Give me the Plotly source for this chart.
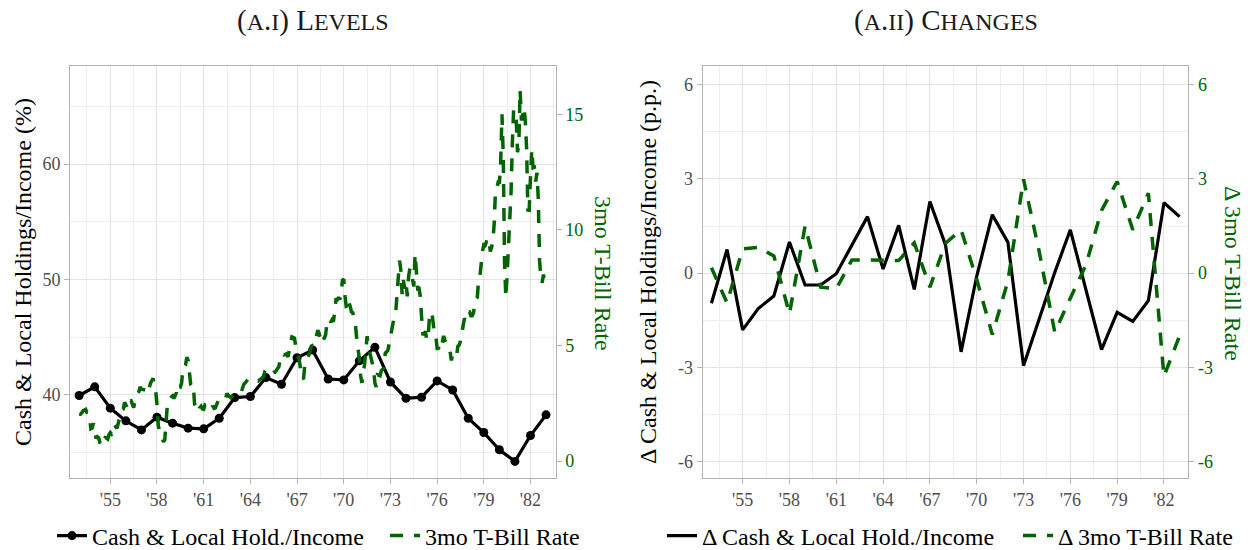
import numpy as np
import plotly.graph_objects as go

# ---------------------------------------------------------------- data
years = list(range(1953, 1984))

# Cash & local holdings relative to income (%), annual
cash_level = [39.95, 40.70, 38.85, 37.75, 36.97, 38.07, 37.55, 37.12, 37.06, 37.98,
              39.77, 39.86, 41.50, 40.92, 43.22, 43.89, 41.38, 41.30, 42.95, 44.12,
              41.12, 39.71, 39.80, 41.21, 40.43, 37.98, 36.74, 35.25, 34.24, 36.48,
              38.27]

# Year-over-year change in the cash ratio (p.p.)
cash_change = [-0.96, 0.75, -1.81, -1.13, -0.73, 0.99, -0.38, -0.38, -0.02, 0.87,
               1.80, 0.13, 1.52, -0.52, 2.28, 0.90, -2.51, -0.10, 1.86, 0.98,
               -2.95, -1.47, 0.02, 1.38, -0.58, -2.44, -1.25, -1.54, -0.88, 2.24,
               1.80]

# Year-over-year change in the annual average 3-month T-bill rate (p.p.)
tbill_change = [0.17, -0.95, 0.77, 0.82, 0.55, -1.30, 1.50, -0.45, -0.50, 0.42,
                0.42, 0.40, 0.40, 0.96, -0.45, 0.95, 1.38, -0.20, -1.96, -0.25,
                2.99, 0.70, -1.88, -0.80, 0.26, 2.00, 2.92, 1.38, 2.55, -3.29,
                -2.00]

# Monthly 3-month T-bill rate (%), Jan 1953 - Dec 1982
tbill_monthly = [
    2.04, 2.02, 2.08, 2.18, 2.20, 2.23, 2.10, 2.09, 1.88, 1.40, 1.43, 1.63,   # 1953
    1.21, 0.98, 1.05, 1.01, 0.78, 0.65, 0.71, 0.89, 1.01, 0.99, 0.95, 1.15,   # 1954
    1.23, 1.17, 1.28, 1.59, 1.45, 1.41, 1.60, 1.90, 2.07, 2.23, 2.25, 2.54,   # 1955
    2.41, 2.32, 2.25, 2.60, 2.61, 2.49, 2.31, 2.60, 2.84, 2.90, 2.99, 3.21,   # 1956
    3.11, 3.10, 3.08, 3.06, 3.06, 3.29, 3.16, 3.37, 3.53, 3.58, 3.29, 3.04,   # 1957
    2.44, 1.53, 1.30, 1.13, 0.91, 0.83, 0.91, 1.69, 2.44, 2.63, 2.67, 2.77,   # 1958
    2.82, 2.70, 2.80, 2.95, 2.84, 3.21, 3.20, 3.38, 4.04, 4.05, 4.15, 4.49,   # 1959
    4.35, 3.96, 3.31, 3.23, 3.29, 2.46, 2.30, 2.30, 2.48, 2.30, 2.37, 2.25,   # 1960
    2.24, 2.42, 2.39, 2.29, 2.29, 2.33, 2.24, 2.39, 2.28, 2.30, 2.48, 2.60,   # 1961
    2.72, 2.73, 2.72, 2.73, 2.68, 2.73, 2.92, 2.82, 2.78, 2.74, 2.83, 2.87,   # 1962
    2.91, 2.92, 2.89, 2.90, 2.92, 2.99, 3.18, 3.32, 3.38, 3.45, 3.52, 3.52,   # 1963
    3.52, 3.53, 3.54, 3.47, 3.48, 3.48, 3.46, 3.50, 3.53, 3.57, 3.64, 3.84,   # 1964
    3.81, 3.93, 3.93, 3.93, 3.89, 3.80, 3.84, 3.84, 3.92, 4.03, 4.09, 4.38,   # 1965
    4.59, 4.65, 4.59, 4.62, 4.64, 4.50, 4.80, 4.96, 5.37, 5.35, 5.32, 4.96,   # 1966
    4.72, 4.56, 4.26, 3.84, 3.60, 3.54, 4.21, 4.27, 4.42, 4.56, 4.73, 4.97,   # 1967
    5.00, 4.98, 5.17, 5.38, 5.66, 5.52, 5.31, 5.09, 5.19, 5.35, 5.45, 5.94,   # 1968
    6.13, 6.12, 6.01, 6.11, 6.03, 6.43, 6.98, 6.97, 7.08, 6.99, 7.24, 7.82,   # 1969
    7.87, 7.13, 6.63, 6.51, 6.84, 6.68, 6.45, 6.41, 6.12, 5.91, 5.28, 4.87,   # 1970
    4.44, 3.70, 3.38, 3.86, 4.14, 4.75, 5.40, 4.94, 4.69, 4.46, 4.22, 4.01,   # 1971
    3.38, 3.20, 3.73, 3.71, 3.69, 3.91, 3.98, 4.02, 4.66, 4.74, 4.78, 5.07,   # 1972
    5.41, 5.60, 6.09, 6.26, 6.36, 7.19, 8.01, 8.67, 8.29, 7.22, 7.83, 7.45,   # 1973
    7.77, 7.12, 7.96, 8.33, 8.23, 7.90, 7.55, 8.96, 8.06, 7.46, 7.47, 7.15,   # 1974
    6.26, 5.50, 5.49, 5.61, 5.23, 5.34, 6.13, 6.44, 6.42, 5.96, 5.48, 5.44,   # 1975
    4.87, 4.88, 5.00, 4.86, 5.20, 5.41, 5.23, 5.14, 5.08, 4.92, 4.75, 4.35,   # 1976
    4.62, 4.67, 4.60, 4.54, 4.96, 5.02, 5.19, 5.49, 5.81, 6.16, 6.10, 6.07,   # 1977
    6.44, 6.45, 6.29, 6.29, 6.41, 6.73, 7.01, 7.08, 7.85, 7.99, 8.64, 9.08,   # 1978
    9.35, 9.32, 9.48, 9.46, 9.61, 9.06, 9.24, 9.52, 10.26, 11.70, 11.79, 12.04,  # 1979
    12.00, 12.86, 15.00, 13.20, 8.58, 7.07, 8.06, 9.13, 10.27, 11.62, 13.73, 15.20,  # 1980
    15.02, 14.79, 13.36, 13.69, 16.05, 14.73, 14.95, 15.30, 14.70, 13.54, 10.86, 10.85,  # 1981
    12.28, 13.48, 12.68, 12.70, 12.09, 12.47, 11.35, 8.68, 7.92, 7.71, 8.07, 7.70,   # 1982
]
tbill_dates = [1953 + i / 12 for i in range(len(tbill_monthly))]

xtick_years = list(range(1955, 1983, 3))
xtick_text = ["'" + str(y)[2:] for y in xtick_years]
xminor_years = [1953.5 + 3 * k for k in range(11)]

# ---------------------------------------------------------------- style
SERIF = "Liberation Serif, Times New Roman, serif"
GREEN = "#006400"
GRID = "#e3e3e3"
GRID_MINOR = "#eeeeee"
FRAME = "#b3b3b3"
TICKTXT = "#4d4d4d"
W, H = 1250, 550


def px_x(p):
    return p / W


def px_y(p):
    return 1 - p / H


def small_caps(text, small=24):
    """Uppercase letters at full size, lowercase letters as reduced capitals."""
    out = []
    for ch in text:
        if ch.islower():
            out.append(f"<span style='font-size:{small}px'>{ch.upper()}</span>")
        else:
            out.append(ch)
    return "".join(out)


fig = go.Figure()

# -------- left panel: levels
fig.add_trace(go.Scatter(
    x=years, y=cash_level, mode="lines+markers",
    name="Cash & Local Hold./Income",
    line=dict(color="black", width=3.2),
    marker=dict(color="black", size=9),
    xaxis="x", yaxis="y", legend="legend", showlegend=True,
))
fig.add_trace(go.Scatter(
    x=tbill_dates, y=tbill_monthly, mode="lines",
    name="3mo T-Bill Rate",
    line=dict(color=GREEN, width=3.5, dash="13px,11px"),
    xaxis="x", yaxis="y2", legend="legend2", showlegend=True,
))

# -------- right panel: changes
fig.add_trace(go.Scatter(
    x=years, y=cash_change, mode="lines",
    name="\u0394 Cash & Local Hold./Income",
    line=dict(color="black", width=3.2),
    xaxis="x2", yaxis="y3", legend="legend3", showlegend=True,
))
fig.add_trace(go.Scatter(
    x=years, y=tbill_change, mode="lines",
    name="\u0394 3mo T-Bill Rate",
    line=dict(color=GREEN, width=3.5, dash="13px,11px"),
    xaxis="x2", yaxis="y4", legend="legend4", showlegend=True,
))

tickfont = dict(family=SERIF, size=18, color=TICKTXT)
greenfont = dict(family=SERIF, size=18, color=GREEN)


def xaxis_cfg(domain, rng):
    return dict(
        domain=domain, range=rng, tickmode="array",
        tickvals=xtick_years, ticktext=xtick_text, tickfont=tickfont,
        ticks="outside", ticklen=5, tickcolor=FRAME,
        showgrid=True, gridcolor=GRID, gridwidth=1,
        minor=dict(tickmode="array", tickvals=xminor_years, showgrid=True,
                   gridcolor=GRID_MINOR, gridwidth=1, ticks=""),
        showline=True, linecolor=FRAME, linewidth=1, mirror=True,
        zeroline=False,
    )


def legend_cfg(x_px):
    return dict(
        orientation="h", x=px_x(x_px), xanchor="left", y=px_y(536), yanchor="middle",
        font=dict(family=SERIF, size=24, color="black"), bgcolor="rgba(0,0,0,0)",
        visible=True,
    )


ydom = [px_y(478), px_y(66)]

fig.update_layout(
    width=W, height=H,
    margin=dict(l=0, r=0, t=0, b=0, autoexpand=False),
    showlegend=True,
    paper_bgcolor="white", plot_bgcolor="white",
    font=dict(family=SERIF, color="black"),
    xaxis=xaxis_cfg([px_x(70), px_x(555.7)], [1952.41, 1983.62]),
    xaxis2=xaxis_cfg([px_x(702.7), px_x(1188.3)], [1952.44, 1983.56]),
    yaxis=dict(
        domain=ydom, range=[32.8, 68.5], anchor="x",
        tickmode="array", tickvals=[40, 50, 60], tickfont=tickfont,
        ticks="outside", ticklen=5, tickcolor=FRAME,
        showgrid=True, gridcolor=GRID, gridwidth=1,
        minor=dict(tickmode="array", tickvals=[35, 45, 55, 65], showgrid=True,
                   gridcolor=GRID_MINOR, gridwidth=1, ticks=""),
        showline=True, linecolor=FRAME, linewidth=1, mirror=True,
        zeroline=False,
    ),
    yaxis2=dict(
        overlaying="y", side="right", anchor="x",
        range=[-0.735, 17.09], tickmode="array", tickvals=[0, 5, 10, 15],
        tickfont=greenfont, ticks="outside", ticklen=5, tickcolor=FRAME,
        showgrid=False, zeroline=False, showline=False,
    ),
    yaxis3=dict(
        domain=ydom, range=[-6.53, 6.6], anchor="x2",
        tickmode="array", tickvals=[-6, -3, 0, 3, 6],
        ticktext=["-6", "-3", "0", "3", "6"], tickfont=tickfont,
        ticks="outside", ticklen=5, tickcolor=FRAME,
        showgrid=True, gridcolor=GRID, gridwidth=1,
        minor=dict(tickmode="array", tickvals=[-4.5, -1.5, 1.5, 4.5], showgrid=True,
                   gridcolor=GRID_MINOR, gridwidth=1, ticks=""),
        showline=True, linecolor=FRAME, linewidth=1, mirror=True,
        zeroline=False,
    ),
    yaxis4=dict(
        overlaying="y3", side="right", anchor="x2",
        range=[-6.53, 6.6], tickmode="array", tickvals=[-6, -3, 0, 3, 6],
        ticktext=["-6", "-3", "0", "3", "6"], tickfont=greenfont,
        ticks="outside", ticklen=5, tickcolor=FRAME,
        showgrid=False, zeroline=False, showline=False,
    ),
    legend=legend_cfg(52),
    legend2=legend_cfg(385),
    legend3=legend_cfg(662),
    legend4=legend_cfg(1018),
)

# panel titles and axis titles
ann = [
    dict(text=small_caps("(a.i) Levels"), x=px_x(312.5), y=px_y(20),
         font=dict(family=SERIF, size=29, color="#1a1a1a")),
    dict(text=small_caps("(a.ii) Changes"), x=px_x(945.5), y=px_y(20),
         font=dict(family=SERIF, size=29, color="#1a1a1a")),
    dict(text="Cash & Local Holdings/Income (%)", x=px_x(23), y=px_y(272),
         textangle=-90, font=dict(family=SERIF, size=24, color="black")),
    dict(text="3mo T-Bill Rate", x=px_x(603), y=px_y(273),
         textangle=90, font=dict(family=SERIF, size=24, color=GREEN)),
    dict(text="\u0394 Cash & Local Holdings/Income (p.p.)", x=px_x(648), y=px_y(272),
         textangle=-90, font=dict(family=SERIF, size=24, color="black")),
    dict(text="\u0394 3mo T-Bill Rate", x=px_x(1233), y=px_y(273),
         textangle=90, font=dict(family=SERIF, size=24, color=GREEN)),
]
for a in ann:
    fig.add_annotation(xref="paper", yref="paper", showarrow=False,
                       xanchor="center", yanchor="middle", **a)

fig.write_html("out.html")
